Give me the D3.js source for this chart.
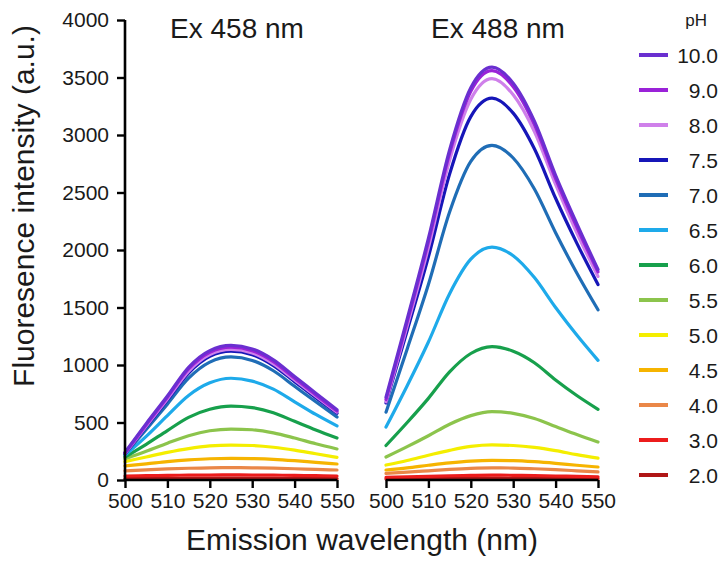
<!DOCTYPE html>
<html>
<head>
<meta charset="utf-8">
<script src="https://cdn.jsdelivr.net/npm/d3@7"></script>
<style>
  html, body { margin: 0; padding: 0; background: #fff; }
  svg { display: block; font-family: "Liberation Sans", Arial, Helvetica, sans-serif; }
</style>
</head>
<body>
<svg id="chart" width="723" height="561"></svg>
<script>
// ---- data ----
const wavelengths = [500, 505, 510, 515, 520, 525, 530, 535, 540, 545, 550];
const phLabels = ["10.0", "9.0", "8.0", "7.5", "7.0", "6.5", "6.0", "5.5", "5.0", "4.5", "4.0", "3.0", "2.0"];
const phColors = ["#6a2fd0", "#9a22d8", "#cf80ea", "#1616b8", "#1f6db6", "#1eaaea", "#17a04c", "#8cc44c", "#f4ee00", "#f6b400", "#ea8748", "#ec1c1c", "#b01616"];
const yTicks = [0, 500, 1000, 1500, 2000, 2500, 3000, 3500, 4000];
const xTicks = [500, 510, 520, 530, 540, 550];
const panelTitles = ["Ex 458 nm", "Ex 488 nm"];

// Ex 458 nm: one row per pH (same order as phLabels)
const ex458Values = [
  [240, 490, 730, 980, 1125, 1170, 1140, 1045, 900, 755, 610],
  [235, 480, 720, 965, 1110, 1155, 1125, 1030, 885, 740, 600],
  [230, 470, 705, 945, 1090, 1135, 1105, 1010, 870, 728, 590],
  [228, 462, 695, 930, 1075, 1120, 1090, 995, 855, 715, 580],
  [225, 440, 660, 885, 1025, 1070, 1040, 950, 815, 680, 548],
  [215, 380, 560, 735, 845, 885, 860, 790, 680, 570, 470],
  [200, 310, 430, 545, 615, 643, 630, 585, 510, 435, 365],
  [185, 250, 320, 385, 428, 443, 437, 410, 365, 315, 270],
  [160, 200, 240, 273, 296, 304, 300, 285, 260, 228, 197],
  [122, 140, 160, 175, 185, 188, 186, 180, 168, 153, 139],
  [80, 88, 96, 102, 106, 107, 106, 103, 98, 92, 87],
  [35, 38, 40, 42, 43, 44, 43, 42, 40, 38, 35],
  [12, 13, 14, 15, 15, 16, 15, 15, 14, 13, 12]
];

// Ex 488 nm
const ex488Values = [
  [720, 1400, 2100, 2870, 3410, 3590, 3450, 3120, 2650, 2230, 1830],
  [700, 1375, 2070, 2840, 3380, 3560, 3420, 3090, 2620, 2200, 1810],
  [680, 1340, 2020, 2780, 3310, 3490, 3350, 3030, 2570, 2150, 1770],
  [670, 1300, 1940, 2660, 3160, 3320, 3190, 2880, 2450, 2060, 1700],
  [590, 1140, 1700, 2330, 2770, 2910, 2800, 2530, 2150, 1800, 1480],
  [460, 820, 1200, 1620, 1920, 2025, 1950, 1760, 1500, 1260, 1040],
  [300, 500, 710, 940, 1100, 1160, 1120, 1020, 870, 735, 615],
  [200, 290, 385, 485, 560, 595, 580, 535, 465, 395, 330],
  [130, 170, 215, 258, 292, 305, 300, 283, 255, 220, 190],
  [87, 105, 128, 149, 164, 170, 168, 159, 145, 128, 113],
  [58, 68, 80, 92, 101, 105, 104, 98, 90, 80, 70],
  [22, 27, 32, 37, 40, 42, 41, 39, 35, 31, 27],
  [8, 10, 12, 14, 15, 16, 15, 15, 13, 12, 10]
];

// ---- layout ----
const svg = d3.select("#chart");
const yTop = 20, yBottom = 480;
const panels = [
  { x0: 125, x1: 337, values: ex458Values, title: panelTitles[0], titleX: 237, showY: true },
  { x0: 386, x1: 598, values: ex488Values, title: panelTitles[1], titleX: 498, showY: false }
];

const y = d3.scaleLinear().domain([0, 4000]).range([yBottom, yTop]);

panels.forEach(p => {
  const x = d3.scaleLinear().domain([500, 550]).range([p.x0, p.x1]);
  const g = svg.append("g");

  const line = d3.line()
    .x((d, i) => x(wavelengths[i]))
    .y(d => y(d))
    .curve(d3.curveMonotoneX);
  const order = d3.range(phLabels.length).reverse();
  g.selectAll("path.curve")
    .data(order)
    .join("path")
    .attr("class", "curve")
    .attr("d", i => line(p.values[i]))
    .attr("fill", "none")
    .attr("stroke", i => phColors[i])
    .attr("stroke-width", 3.2)
    .attr("stroke-linecap", "round");

  const xAxis = d3.axisBottom(x).tickValues(xTicks).tickSize(8).tickPadding(5).tickFormat(d3.format("d"));
  const gx = g.append("g").attr("transform", `translate(0,${yBottom})`).call(xAxis);
  gx.select(".domain").attr("stroke", "#000").attr("stroke-width", 2.6).attr("d", `M${p.x0},0H${p.x1}`);
  gx.selectAll(".tick line").attr("stroke", "#000").attr("stroke-width", 2.4);
  gx.selectAll(".tick text").attr("fill", "#1a1a1a").attr("font-size", 21)
    .attr("font-family", "'Liberation Sans', Arial, sans-serif");

  if (p.showY) {
    const yAxis = d3.axisLeft(y).tickValues(yTicks).tickSize(8).tickPadding(8).tickFormat(d3.format("d"));
    const gy = g.append("g").attr("transform", `translate(${p.x0},0)`).call(yAxis);
    gy.select(".domain").attr("stroke", "#000").attr("stroke-width", 2.6).attr("d", `M0,${yTop}V${yBottom}`);
    gy.selectAll(".tick line").attr("stroke", "#000").attr("stroke-width", 2.4);
    gy.selectAll(".tick text").attr("fill", "#1a1a1a").attr("font-size", 21)
      .attr("font-family", "'Liberation Sans', Arial, sans-serif");
  }

  svg.append("text")
    .attr("x", p.titleX)
    .attr("y", 38)
    .attr("text-anchor", "middle")
    .attr("font-size", 28)
    .attr("fill", "#1a1a1a")
    .text(p.title);
});

svg.append("text")
  .attr("x", 362).attr("y", 550)
  .attr("text-anchor", "middle")
  .attr("font-size", 30)
  .attr("fill", "#1a1a1a")
  .text("Emission wavelength (nm)");

svg.append("text")
  .attr("transform", "translate(34,206) rotate(-90)")
  .attr("text-anchor", "middle")
  .attr("font-size", 30)
  .attr("fill", "#1a1a1a")
  .text("Fluoresence intensity (a.u.)");

// legend
const legend = svg.append("g");
legend.append("text")
  .attr("x", 707).attr("y", 26)
  .attr("text-anchor", "end")
  .attr("font-size", 17)
  .attr("fill", "#1a1a1a")
  .text("pH");
const items = legend.selectAll("g.item")
  .data(phLabels)
  .join("g")
  .attr("class", "item")
  .attr("transform", (d, i) => `translate(0,${55 + 35 * i})`);
items.append("line")
  .attr("x1", 639).attr("x2", 668)
  .attr("y1", 0).attr("y2", 0)
  .attr("stroke", (d, i) => phColors[i])
  .attr("stroke-width", 4);
items.append("text")
  .attr("x", 718).attr("y", 0)
  .attr("dy", "0.36em")
  .attr("text-anchor", "end")
  .attr("font-size", 21)
  .attr("fill", "#1a1a1a")
  .text(d => d);
</script>
</body>
</html>
